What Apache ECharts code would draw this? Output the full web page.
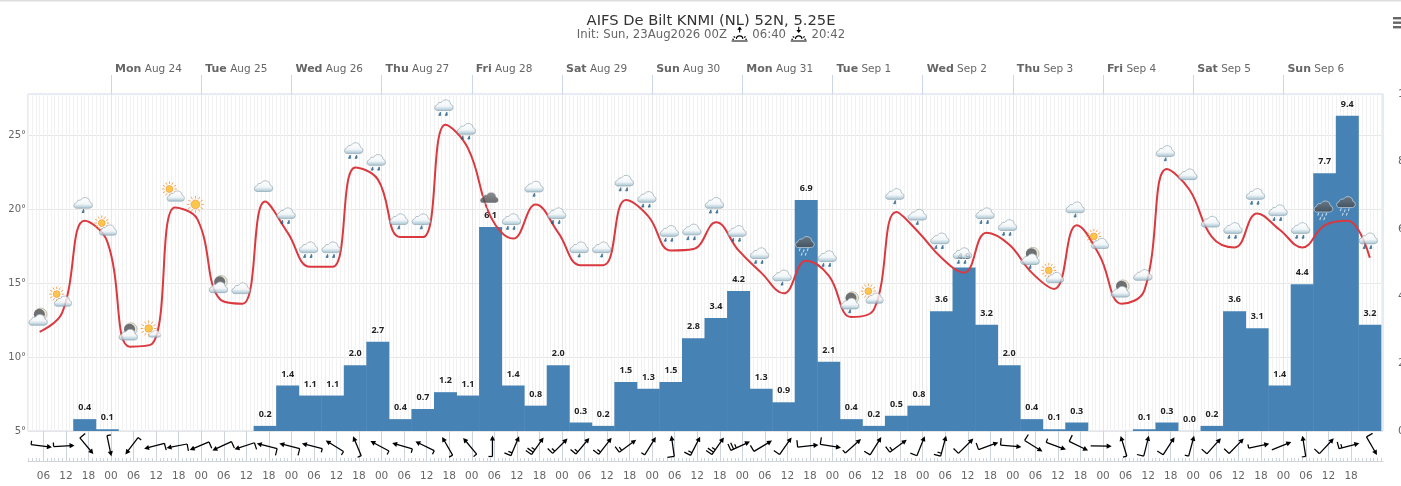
<!DOCTYPE html>
<html><head><meta charset="utf-8">
<style>html,body{margin:0;padding:0;background:#fff;overflow:hidden}#c{width:1401px;height:486px}</style>
<script src="https://cdn.jsdelivr.net/npm/echarts@6/dist/echarts.min.js"></script>
</head><body><div id="c"></div>
<script>
// ---- data ----
const titleText = 'AIFS De Bilt KNMI (NL) 52N, 5.25E';
const initText = 'Init: Sun, 23Aug2026 00Z';
const sunriseText = '06:40';
const sunsetText = '20:42';
const dayLabels = [['Mon','Aug 24'],['Tue','Aug 25'],['Wed','Aug 26'],['Thu','Aug 27'],['Fri','Aug 28'],['Sat','Aug 29'],['Sun','Aug 30'],['Mon','Aug 31'],['Tue','Sep 1'],['Wed','Sep 2'],['Thu','Sep 3'],['Fri','Sep 4'],['Sat','Sep 5'],['Sun','Sep 6']];
// temperature, one value per forecast step (first step = Aug 23 05h, every 6 h)
const temperature = [11.7,13.0,19.2,17.8,10.7,10.9,20.1,19.3,13.9,13.6,20.5,18.4,16.1,16.1,22.8,22.0,18.1,18.1,25.7,24.1,19.5,18.0,20.3,18.4,16.2,16.2,20.6,19.5,17.2,17.3,19.1,17.2,15.7,14.3,16.5,15.5,12.7,13.2,19.8,18.4,16.7,15.7,18.4,17.6,15.7,14.6,18.9,16.9,13.6,14.5,22.7,21.3,18.1,17.4,19.7,18.6,17.4,18.9,19.2,16.7];
// rain, same steps as the temperature (null = no bar)
const rain = [null,null,0.4,0.1,null,null,null,null,null,null,0.2,1.4,1.1,1.1,2.0,2.7,0.4,0.7,1.2,1.1,6.1,1.4,0.8,2.0,0.3,0.2,1.5,1.3,1.5,2.8,3.4,4.2,1.3,0.9,6.9,2.1,0.4,0.2,0.5,0.8,3.6,4.9,3.2,2.0,0.4,0.1,0.3,null,null,0.1,0.3,0.049,0.2,3.6,3.1,1.4,4.4,7.7,9.4,3.2];
const weather = ['moon','suncloud','drizzle','suncloud','moon','sunsmall','suncloud','sun','moon','cloud','cloud','rain','rain','rain','rain','rain','drizzle','drizzle','rain','rain','dark','rain','drizzle','rain','drizzle','drizzle','rain','rain','rain','rain','rain','rain','rain','drizzle','dark','rain','moondrop','suncloud','drizzle','drizzle','rain','rain','rain','rain','moondrop','suncloud','drizzle','suncloud','moon','cloud','drizzle','cloud','cloud','rain','rain','rain','rain','dark','dark','rain'];
const windDir = [97,87,140,168,217,255,259,247,245,252,284,284,284,302,337,298,286,296,330,320,0,23,35,45,40,38,54,32,352,27,35,65,59,35,84,99,48,32,54,22,15,45,70,95,122,110,116,91,343,14,33,15,42,44,78,68,351,43,75,150];
const windKts = [5,5,10,5,5,10,10,10,10,10,10,10,5,5,5,5,5,5,5,5,5,15,25,15,15,15,15,5,10,15,25,25,10,10,10,10,5,10,15,10,15,10,10,10,10,5,10,0,5,10,10,5,10,10,5,0,5,10,15,10];
const tempTicks = [5,10,15,20,25];

// ---- time scale: hours after Aug 23 00h ----
const H_MIN = 1.9, H_MAX = 362.5, STEP_START = 5, STEP = 6;
const stepHour = i => STEP_START + STEP * i;
const hourly = [], sixHourly = [], daily = [];
for (let h = 2; h <= 362; h++) hourly.push(h);
for (let h = 6; h <= 354; h += 6) sixHourly.push(h);
for (let h = 24; h <= 336; h += 24) daily.push(h);

// ---- weather icons as small SVG images ----
const defs = '<defs><linearGradient id="w" x1="0" y1="0" x2="0" y2="1"><stop offset="0" stop-color="#ffffff"/><stop offset=".6" stop-color="#f1f6f8"/><stop offset="1" stop-color="#93b8c9"/></linearGradient><linearGradient id="d" x1="0" y1="0" x2="0" y2="1"><stop offset="0" stop-color="#70757a"/><stop offset="1" stop-color="#45494d"/></linearGradient></defs>';
const cloudPath = 'M5.2 15.4h13.4a3.1 3.1 0 0 0 .7-6.1 5 5 0 0 0-9.4-2.1 3.7 3.7 0 0 0-4.3 2.6 2.9 2.9 0 0 0-.4 5.6z';
const cloud = (tx, ty, s) => `<g transform="translate(${tx} ${ty}) scale(${s})"><path d="${cloudPath}" fill="url(#w)" stroke="#7d95a3" stroke-width=".7"/></g>`;
const darkCloud = (tx, ty) => `<g transform="translate(${tx} ${ty}) scale(1.02)"><path d="${cloudPath}" fill="url(#d)" stroke="#ffffff" stroke-width=".6"/></g>`;
const drop = (x, y) => `<path d="M${x + .4} ${y}l-1.6 3.2h2z" fill="#17567f" stroke="#17567f" stroke-width=".9"/>`;
const paleDrop = (x, y) => `<path d="M${x} ${y}l-1 2.8" stroke="#e4f0f7" stroke-width="1.1" fill="none"/>`;
const sunGlyph = (cx, cy, r) => {
  let rays = '';
  for (let a = 0; a < 360; a += 30) {
    const c = Math.cos(a * Math.PI / 180), s = Math.sin(a * Math.PI / 180);
    rays += `<line x1="${(cx + c * (r + 1.6)).toFixed(1)}" y1="${(cy + s * (r + 1.6)).toFixed(1)}" x2="${(cx + c * (r + 4.2)).toFixed(1)}" y2="${(cy + s * (r + 4.2)).toFixed(1)}" stroke="#f0953a" stroke-width="1"/>`;
  }
  return `<circle cx="${cx}" cy="${cy}" r="${r}" fill="#fdbb1e" stroke="#f08a24" stroke-width=".8"/>${rays}`;
};
const moonGlyph = (cx, cy) => `<circle cx="${cx}" cy="${cy}" r="6.3" fill="#e9e4cf" stroke="#8c8672" stroke-width=".6"/><circle cx="${cx - 1.3}" cy="${cy}" r="5.5" fill="#4a4d50"/>`;
const iconSvg = {
  cloud: cloud(0, 1.5, 1),
  drizzle: cloud(0, -1, 1) + drop(12.5, 15.5),
  rain: cloud(0, -2.5, 1) + drop(8.5, 14.5) + drop(15, 14.5),
  dark: darkCloud(0, -2) + paleDrop(8, 14.5) + paleDrop(12, 15.5) + paleDrop(16, 14.5) + paleDrop(10, 19) + paleDrop(14, 19),
  suncloud: sunGlyph(8.5, 8.5, 3.4) + cloud(3, 6, .95),
  sunsmall: sunGlyph(10.3, 11.8, 3.8) + cloud(8.3, 10.5, .65),
  sun: sunGlyph(12, 12, 4.3),
  moon: moonGlyph(15, 9.5) + cloud(0, 5, 1),
  moondrop: moonGlyph(15, 8) + cloud(0, 3.5, 1) + drop(12.5, 19.5)
};
const toImg = inner => 'image://data:image/svg+xml;charset=utf-8,' + encodeURIComponent(`<svg xmlns="http://www.w3.org/2000/svg" width="72" height="72" viewBox="0 0 24 24">${defs}${inner}</svg>`);
const riseImg = (down) => 'data:image/svg+xml;charset=utf-8,' + encodeURIComponent(`<svg xmlns="http://www.w3.org/2000/svg" width="54" height="48" viewBox="0 0 18 16"><g stroke="#000" fill="none" stroke-width="1.1"><line x1="9" y1="${down ? 0 : 1}" x2="9" y2="${down ? 4 : 6}"/><line x1="1" y1="14.5" x2="17" y2="14.5" stroke-width="1.2"/><path d="M5.8 12.6a3.2 3.2 0 0 1 6.4 0"/><line x1="3" y1="10" x2="4.6" y2="11"/><line x1="15" y1="10" x2="13.4" y2="11"/><line x1="1.6" y1="12.8" x2="3.4" y2="12.8"/><line x1="14.6" y1="12.8" x2="16.4" y2="12.8"/></g><path d="${down ? 'M6.6 3.6h4.8L9 6.6z' : 'M6.6 3.2h4.8L9 0z'}" fill="#000"/></svg>`);

// ---- series data ----
const tempData = temperature.map((t, i) => [stepHour(i), t]);
const rainData = rain.map((r, i) => r === null ? null : [stepHour(i), r]).filter(Boolean);
const iconData = temperature.map((t, i) => ({ value: [stepHour(i), t], symbol: toImg(iconSvg[weather[i]]) }));
const windData = windDir.map((d, i) => [stepHour(i) + 0.5, 0.5, d, windKts[i]]);

function renderBarb(params, api) {
  const [cx, cy] = api.coord([api.value(0), api.value(1)]);
  const th = api.value(2) * Math.PI / 180, kts = api.value(3);
  const dx = Math.sin(th), dy = -Math.cos(th), lx = dy, ly = -dx, L = 10.5;
  const tail = [cx - dx * L, cy - dy * L], head = [cx + dx * L, cy + dy * L];
  const style = { stroke: '#000', lineWidth: 1.25, fill: 'none' };
  const children = [{ type: 'polyline', shape: { points: [tail, [cx + dx * (L - 3), cy + dy * (L - 3)]] }, style }];
  let left = Math.floor(kts / 5), k = 0;
  while (left > 0) {
    const len = left >= 2 ? 7 : 4;
    left -= left >= 2 ? 2 : 1;
    const px = tail[0] + dx * k * 3, py = tail[1] + dy * k * 3;
    children.push({ type: 'polyline', shape: { points: [[px, py], [px + lx * len, py + ly * len]] }, style });
    k++;
  }
  const b = [head[0] - dx * 5, head[1] - dy * 5];
  children.push({ type: 'polygon', shape: { points: [head, [b[0] + lx * 2.6, b[1] + ly * 2.6], [b[0] - lx * 2.6, b[1] - ly * 2.6]] }, style: { fill: '#000' } });
  return { type: 'group', children };
}

const FONT = '"DejaVu Sans", sans-serif';
const GRID_LINE = '#ccd6eb';
const WIND_LINE = '#cfd3da';
const chart = echarts.init(document.getElementById('c'), null, { renderer: 'canvas' });
const baseX = { type: 'value', min: H_MIN, max: H_MAX, containShape: false };
chart.setOption({
  animation: false,
  backgroundColor: '#fff',
  title: {
    left: 706, top: 9, textAlign: 'center', itemGap: -1,
    text: titleText,
    textStyle: { fontFamily: FONT, fontSize: 14.7, fontWeight: 'normal', color: '#333' },
    subtext: `${initText} {sr|} ${sunriseText} {ss|} ${sunsetText}`,
    subtextStyle: {
      fontFamily: FONT, fontSize: 11.7, color: '#666', lineHeight: 13,
      rich: {
        sr: { backgroundColor: { image: riseImg(false) }, width: 18, height: 16 },
        ss: { backgroundColor: { image: riseImg(true) }, width: 18, height: 16 }
      }
    }
  },
  grid: [
    { left: 28, top: 94, width: 1355, height: 337, outerBoundsMode: 'none', show: true, borderColor: GRID_LINE, borderWidth: 1, backgroundColor: 'transparent' },
    { left: 28, top: 431, width: 1355, height: 30, outerBoundsMode: 'none' }
  ],
  xAxis: [
    { ...baseX, gridIndex: 0, position: 'bottom', axisLine: { show: false }, axisLabel: { show: false },
      axisTick: { show: false, customValues: hourly }, splitLine: { show: true, lineStyle: { color: '#f1f1f1', width: 1 } } },
    { ...baseX, gridIndex: 0, position: 'top', axisLine: { show: false },
      axisTick: { show: true, length: 19, customValues: daily, lineStyle: { color: GRID_LINE } },
      splitLine: { show: true, lineStyle: { color: '#e6e6e6' } },
      axisLabel: { show: true, customValues: daily, margin: 19, align: 'left', padding: [0, 0, 0, 4], color: '#666', fontFamily: FONT, fontSize: 10.5,
        formatter: v => { const d = dayLabels[v / 24 - 1]; return `{b|${d[0]}} ${d[1]}`; },
        rich: { b: { fontWeight: 'bold', color: '#666', fontFamily: FONT, fontSize: 11 } } } },
    { ...baseX, gridIndex: 1, position: 'bottom', axisLine: { show: true, lineStyle: { color: WIND_LINE } },
      axisTick: { show: true, inside: true, length: 3, customValues: hourly, lineStyle: { color: WIND_LINE } }, axisLabel: { show: false }, splitLine: { show: false } },
    { ...baseX, gridIndex: 1, position: 'bottom', axisLine: { show: false },
      axisTick: { show: false, customValues: sixHourly },
      splitLine: { show: true, lineStyle: { color: WIND_LINE } },
      axisLabel: { show: true, customValues: sixHourly, margin: 10, color: '#666', fontFamily: FONT, fontSize: 10.5,
        formatter: v => String(v % 24).padStart(2, '0') } }
  ],
  yAxis: [
    { type: 'value', gridIndex: 0, position: 'left', min: 5, max: 5 + 337 / 14.8, axisLine: { show: false },
      axisTick: { show: false, customValues: tempTicks }, splitLine: { show: true, lineStyle: { color: '#e6e6e6' } },
      axisLabel: { customValues: tempTicks, margin: 2, color: '#666', fontFamily: FONT, fontSize: 10, formatter: '{value}°' } },
    { type: 'value', gridIndex: 0, position: 'right', min: 0, max: 10, interval: 2, axisLine: { show: false }, axisTick: { show: false }, splitLine: { show: false },
      axisLabel: { margin: 15, color: '#666', fontFamily: FONT, fontSize: 11 } },
    { type: 'value', gridIndex: 0, position: 'right', min: 0.048, max: 10.048, show: false, splitLine: { show: false } },
    { type: 'value', gridIndex: 1, min: 0, max: 1, show: false, splitLine: { show: false } }
  ],
  series: [
    { type: 'bar', name: 'Rain', xAxisIndex: 0, yAxisIndex: 2, data: rainData, barWidth: 23, barMinHeight: 1, z: 2,
      itemStyle: { color: '#4682b4' },
      label: { show: true, position: 'top', distance: 7, color: '#222', fontFamily: '"Open Sans", sans-serif', fontWeight: 'bold', fontSize: 9, textBorderColor: '#fff', textBorderWidth: 1.5,
        formatter: p => p.value[1].toFixed(1) } },
    { type: 'line', name: 'Temperature', xAxisIndex: 0, yAxisIndex: 0, data: tempData, smooth: 0.42, showSymbol: false, z: 3,
      lineStyle: { color: '#d9393f', width: 2 } },
    { type: 'scatter', name: 'Weather', xAxisIndex: 0, yAxisIndex: 0, data: iconData, symbolSize: 24, symbolOffset: [-2, -15], z: 4, silent: true },
    { type: 'custom', name: 'Wind', xAxisIndex: 2, yAxisIndex: 3, data: windData, renderItem: renderBarb, clip: false, z: 3, silent: true, encode: { x: 0, y: 1 } }
  ],
  graphic: [
    { type: 'rect', silent: true, shape: { x: 0, y: 0, width: 1401, height: 1.5 }, style: { fill: '#dddddd' } },
    { type: 'rect', silent: true, shape: { x: 1393, y: 17, width: 9, height: 2.4 }, style: { fill: '#666' } },
    { type: 'rect', silent: true, shape: { x: 1393, y: 21.5, width: 9, height: 2.4 }, style: { fill: '#666' } },
    { type: 'rect', silent: true, shape: { x: 1393, y: 26, width: 9, height: 2.4 }, style: { fill: '#666' } }
  ]
});
</script></body></html>
